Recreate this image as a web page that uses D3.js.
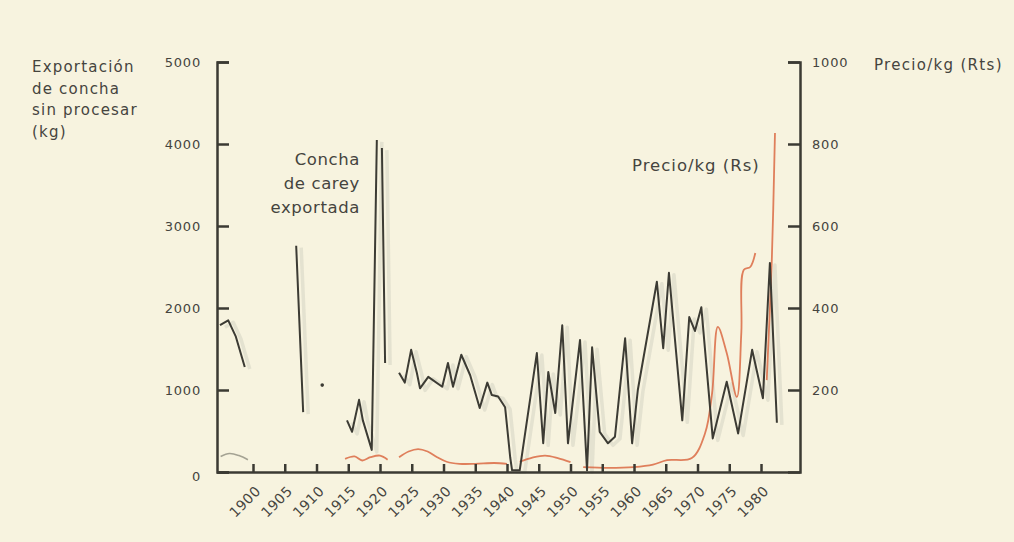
<!DOCTYPE html>
<html>
<head>
<meta charset="utf-8">
<script src="https://cdn.jsdelivr.net/npm/d3@7"></script>
<style>
  html, body { margin: 0; padding: 0; background: #f7f3df; }
  svg { display: block; }
  text { font-family: "DejaVu Sans", sans-serif; fill: #45443e; }
</style>
</head>
<body>
<svg id="chart" width="1014" height="542"></svg>
<script>
// ---- Data ----
// Raw shell export (kg), null = gap in the record
const exportYears = [1894.8, 1896.1, 1897.3, 1898.7, null,
  1906.8, 1907.9, null,
  1914.8, 1915.6, 1916.7, 1917.3, 1918.7, 1919.5, null,
  1920.3, 1920.8, null,
  1923.0, 1923.9, 1924.9, 1925.8, 1926.3, 1927.6, 1929.8, 1930.7, 1931.5, 1932.8, 1934.2,
  1935.7, 1936.9, 1937.6, 1938.6, 1939.7, 1940.5, 1940.8, 1942.0, 1944.7, 1945.7, 1946.5,
  1947.6, 1948.7, 1949.6, 1951.5, 1952.6, 1953.4, 1954.6, 1955.9, 1957.0, 1958.6, 1959.7,
  1960.6, 1963.6, 1964.6, 1965.5, 1967.6, 1968.7, 1969.6, 1970.6, 1972.4, 1974.6, 1976.4,
  1978.6, 1980.3, 1981.4, 1982.5];
const exportKg = [1790, 1850, 1650, 1280, null,
  2760, 730, null,
  630, 490, 880, 630, 270, 4050, null,
  3950, 1330, null,
  1210, 1090, 1490, 1210, 1020, 1160, 1040, 1330, 1040, 1430, 1180,
  780, 1090, 940, 920, 790, 180, 20, 20, 1450, 350, 1220,
  720, 1790, 350, 1610, 20, 1520, 490, 350, 430, 1630, 350,
  1000, 2320, 1510, 2430, 630, 1890, 1720, 2010, 410, 1100, 470,
  1490, 900, 2550, 600];
// Isolated single reading
const exportDotYear = [1910.9];
const exportDotKg = [1060];

// Price per kg (Rs), early faint record
const priceEarlyYears = [1894.9, 1896.3, 1897.8, 1899.2];
const priceEarlyRs = [38, 45, 40, 30];
// Price per kg (Rs), main record
const priceYears = [1914.5, 1916.0, 1917.2, 1918.5, 1920.0, 1921.2, null,
  1923.0, 1924.5, 1926.0, 1927.5, 1929.0, 1930.5, 1932.5, 1935.0, 1938.0, 1940.0, null,
  1942.0, 1944.0, 1946.0, 1948.0, 1950.0, null,
  1952.0, 1956.0, 1960.0, 1963.0, 1965.2, 1969.1, 1971.2, 1972.3, 1973.2, 1974.6, 1976.2,
  1976.9, 1977.3, 1978.3, 1979.1, null,
  1980.9, 1981.7, 1982.2];
const priceRs = [32, 38, 28, 36, 40, 30, null,
  36, 50, 56, 50, 36, 25, 20, 20, 22, 20, null,
  25, 35, 40, 34, 24, null,
  12, 10, 12, 18, 29, 34, 95, 193, 354, 290, 183,
  340, 493, 500, 534, null,
  224, 517, 827];

const yearTicks = d3.range(1900, 1981, 5);
const leftTicks = [0, 1000, 2000, 3000, 4000, 5000];
const rightTicks = [200, 400, 600, 800, 1000];

// ---- Layout ----
const svg = d3.select("#chart");
const W = 1014, H = 542;
const x0 = 217, x1 = 800, yTop = 62, yBot = 472;

svg.append("rect").attr("width", W).attr("height", H).attr("fill", "#f7f3df");

const x = d3.scaleLinear().domain([1894.33, 1986.14]).range([x0, x1]);
const yL = d3.scaleLinear().domain([0, 5000]).range([yBot, yTop]);
const yR = d3.scaleLinear().domain([0, 1000]).range([yBot, yTop]);

const zip = (xs, ys) => xs.map((v, i) => [v, ys[i]]);
const exportData = zip(exportYears, exportKg);
const priceData = zip(priceYears, priceRs);
const priceEarlyData = zip(priceEarlyYears, priceEarlyRs);

const lineLsharp = d3.line().defined(d => d[0] !== null && d[1] !== null)
  .x(d => x(d[0])).y(d => yL(d[1]));
const lineR = d3.line().defined(d => d[0] !== null && d[1] !== null)
  .x(d => x(d[0])).y(d => yR(d[1])).curve(d3.curveCatmullRom.alpha(0.5));

// faint ghost (scan shadow) of the export line
svg.append("path").datum(exportData)
  .attr("d", lineLsharp)
  .attr("transform", "translate(5,2)")
  .attr("fill", "none").attr("stroke", "#c9c7b8").attr("stroke-opacity", 0.4)
  .attr("stroke-width", 3.5).attr("stroke-linejoin", "round");

// price lines
svg.append("path").datum(priceEarlyData)
  .attr("d", lineR).attr("fill", "none")
  .attr("stroke", "#a4a293").attr("stroke-width", 1.6);
svg.append("path").datum(priceData)
  .attr("d", lineR).attr("fill", "none")
  .attr("stroke", "#da6a44").attr("stroke-width", 1.8).attr("stroke-opacity", 0.85);

// export line
svg.append("path").datum(exportData)
  .attr("d", lineLsharp).attr("fill", "none")
  .attr("stroke", "#3c3b34").attr("stroke-width", 2).attr("stroke-linejoin", "round");
svg.selectAll(".dot").data(zip(exportDotYear, exportDotKg)).enter().append("circle")
  .attr("cx", d => x(d[0])).attr("cy", d => yL(d[1])).attr("r", 1.8).attr("fill", "#3c3b34");

// ---- Axes ----
const axisColor = "#3b3a33";
const gL = svg.append("g").attr("transform", `translate(${x0},0)`)
  .call(d3.axisLeft(yL).tickValues(leftTicks).tickFormat(d3.format("d"))
    .tickSize(-12).tickSizeOuter(-12).tickPadding(16));
const gR = svg.append("g").attr("transform", `translate(${x1},0)`)
  .call(d3.axisRight(yR).tickValues(rightTicks).tickFormat(d3.format("d"))
    .tickSize(-12).tickSizeOuter(-12).tickPadding(12));
const gB = svg.append("g").attr("transform", `translate(0,${yBot})`)
  .call(d3.axisBottom(x).tickValues(yearTicks).tickFormat(d3.format("d"))
    .tickSize(-8).tickSizeOuter(0));

[gL, gR, gB].forEach(g => {
  g.selectAll("path.domain").attr("stroke", axisColor).attr("stroke-width", 2.5).attr("fill", "none");
  g.selectAll(".tick line").attr("stroke", axisColor).attr("stroke-width", 2.5);
  g.selectAll("text").attr("font-family", "DejaVu Sans, sans-serif")
    .attr("font-size", 13).attr("letter-spacing", 0.8).attr("fill", "#34332e");
});
gB.selectAll("text")
  .attr("x", 0).attr("y", 0).attr("dy", 0)
  .attr("font-size", 14).attr("letter-spacing", 0.4)
  .attr("text-anchor", "end")
  .attr("transform", "translate(8,20) rotate(-45)");
gL.select(".tick:first-of-type text").attr("dy", "0.62em");

// ---- Titles / annotations ----
const leftTitle = ["Exportación", "de concha", "sin procesar", "(kg)"];
svg.append("g").selectAll("text").data(leftTitle).enter().append("text")
  .attr("x", 32).attr("y", (d, i) => 72 + i * 21.7)
  .attr("font-size", 15).attr("letter-spacing", 1.2).text(d => d);

svg.append("text").attr("x", 874).attr("y", 70)
  .attr("font-size", 15).attr("letter-spacing", 1.3).text("Precio/kg (Rts)");

const shellLabel = ["Concha", "de carey", "exportada"];
svg.append("g").selectAll("text").data(shellLabel).enter().append("text")
  .attr("x", 360).attr("y", (d, i) => 165 + i * 24)
  .attr("text-anchor", "end")
  .attr("font-size", 16.5).attr("letter-spacing", 0.6).text(d => d);

svg.append("text").attr("x", 632).attr("y", 171)
  .attr("font-size", 16.5).attr("letter-spacing", 1.0).text("Precio/kg (Rs)");
</script>
</body>
</html>
